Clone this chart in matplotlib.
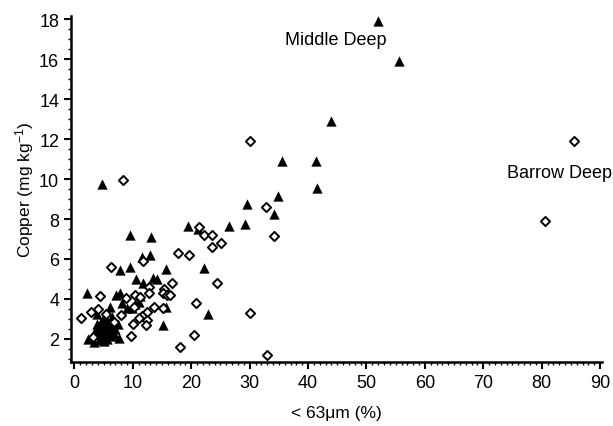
import matplotlib.pyplot as plt
from matplotlib.ticker import MultipleLocator

plt.rcParams["font.family"] = "Liberation Sans"
plt.rcParams["mathtext.default"] = "regular"

INK = "#000000"

# triangles (filled)
tri_x = [51.9, 55.5, 43.9, 35.5, 41.4, 41.5, 34.9, 34.1, 29.5, 29.2, 26.4, 4.7,
         19.4, 21.1, 9.5, 13.1, 11.5, 12.9, 7.8, 9.5, 15.7, 22.2, 10.5, 11.7,
         13.4, 14.2, 2.1, 7.1, 7.8, 11.2, 8.1, 6.0, 9.0, 9.8, 10.4, 11.1,
         15.6, 22.8, 15.2, 3.8, 4.9, 5.5, 6.4, 7.5, 7.7, 2.3, 3.3,
         3.6, 4.0, 4.3, 4.6, 4.8, 5.0, 5.2, 5.4, 5.6, 5.8, 6.0, 6.2, 6.5, 6.8,
         4.2, 5.0, 3.8, 6.0, 7.0, 4.5]
tri_y = [17.9, 15.9, 12.9, 10.9, 10.9, 9.55, 9.17, 8.25, 8.75, 7.75, 7.67, 9.75,
         7.67, 7.5, 7.2, 7.08, 6.12, 6.2, 5.45, 5.62, 5.5, 5.57, 5.0, 4.8,
         5.06, 4.98, 4.32, 4.2, 4.28, 4.15, 3.8, 3.62, 3.53, 3.53, 3.75, 3.85,
         3.58, 3.27, 2.68, 3.25, 3.0, 2.9, 3.08, 2.75, 2.05, 2.0, 1.85,
         2.5, 2.3, 2.6, 2.1, 2.4, 2.7, 2.2, 2.5, 2.0, 2.35, 2.6, 2.15, 2.45, 2.25,
         1.95, 1.9, 2.75, 2.85, 2.5, 2.85]

# diamonds (open)
dia_x = [85.5, 80.5, 30.0, 32.8, 34.2, 30.1, 33.0, 8.3, 21.4, 22.2, 23.6, 23.6,
         25.1, 17.8, 19.6, 11.7, 6.3, 24.4, 16.7, 12.8, 15.4, 12.8, 15.1, 15.9,
         16.4, 10.4, 11.3, 8.8, 4.4, 4.1, 2.9, 1.2, 5.4, 8.0, 10.2, 13.6, 15.1,
         12.5, 11.5, 11.0, 12.5, 12.3, 10.1, 6.7, 9.6, 20.8, 20.4, 18.1, 3.1]
dia_y = [11.9, 7.9, 11.9, 8.58, 7.17, 3.28, 1.2, 9.97, 7.58, 7.2, 7.2, 6.58,
         6.8, 6.32, 6.18, 5.88, 5.6, 4.8, 4.8, 4.6, 4.5, 4.3, 4.3, 4.2,
         4.2, 4.22, 4.12, 4.03, 4.13, 3.5, 3.33, 3.03, 3.25, 3.22, 3.58, 3.62, 3.53,
         3.33, 3.13, 3.03, 2.97, 2.72, 2.74, 2.83, 2.13, 3.8, 2.22, 1.58, 2.1]

x_ticks = [0, 10, 20, 30, 40, 50, 60, 70, 80, 90]
y_ticks = [2, 4, 6, 8, 10, 12, 14, 16, 18]

fig = plt.figure(figsize=(6.13, 4.27), dpi=100)
ax = fig.add_axes([0.1158, 0.150, 0.866, 0.810])

ax.scatter(tri_x, tri_y, marker="^", s=55, color=INK, linewidths=0, zorder=3)
ax.scatter(dia_x, dia_y, marker="D", s=22, facecolors="white", edgecolors=INK,
           linewidths=1.4, zorder=3)

ax.text(44.8, 17.0, "Middle Deep", ha="center", va="center", fontsize=13)
ax.text(74.0, 10.35, "Barrow Deep", ha="left", va="center", fontsize=13, clip_on=False)

ax.set_xlim(-0.6, 90.3)
ax.set_ylim(0.85, 18.15)
ax.set_xticks(x_ticks)
ax.set_yticks(y_ticks)
ax.xaxis.set_minor_locator(MultipleLocator(1))
ax.yaxis.set_minor_locator(MultipleLocator(0.5))
ax.tick_params(which="major", direction="out", length=5, width=1.5, labelsize=13)
ax.tick_params(which="minor", direction="out", length=2.5, width=1)

for side in ("top", "right"):
    ax.spines[side].set_visible(False)
for side in ("left", "bottom"):
    ax.spines[side].set_linewidth(1.8)

ax.set_xlabel("< 63\u03bcm (%)", fontsize=12.5, labelpad=10)
ax.set_ylabel("Copper (mg kg$^{-1}$)", fontsize=12.5, labelpad=2)

fig.savefig("out.png", dpi=100)
